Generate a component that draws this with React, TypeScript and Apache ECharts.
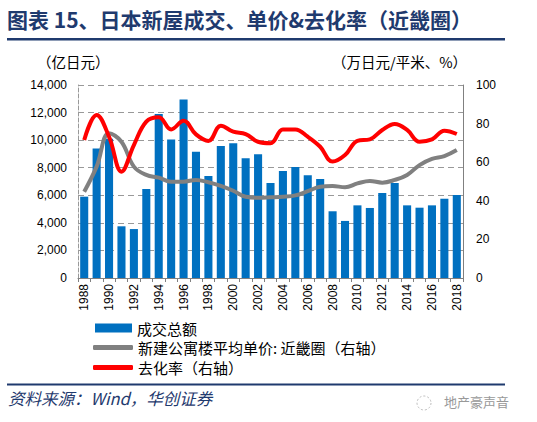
import React, { useEffect, useRef } from "react";
import * as echarts from "echarts";

const years = [
  "1988","1989","1990","1991","1992","1993","1994","1995","1996","1997","1998","1999","2000","2001","2002","2003",
  "2004","2005","2006","2007","2008","2009","2010","2011","2012","2013","2014","2015","2016","2017","2018",
];
const volume = [
  5900, 9400, 10100, 3750, 3550, 6450, 11900, 10050, 12950, 9150, 7400, 9575, 9770, 8680, 8970, 6900,
  7760, 8050, 7450, 7180, 4840, 4140, 5270, 5080, 6170, 6900, 5270, 5100, 5270, 5750, 6020,
];
const price = [
  44.7, 57.7, 75.0, 70.6, 57.7, 53.4, 52.0, 49.9, 49.9, 50.8, 49.6, 47.7, 45.2, 42.1, 41.6, 41.8,
  42.1, 42.8, 45.0, 47.3, 47.7, 47.0, 49.0, 50.3, 49.4, 50.8, 53.4, 58.5, 61.7, 63.2, 66.3,
];
const sellRate = [
  71.5, 84.5, 73.2, 55.1, 68.9, 81.0, 83.3, 77.0, 81.5, 74.4, 71.0, 78.9, 75.8, 74.6, 70.6, 69.8,
  77.0, 77.0, 73.2, 68.0, 60.3, 63.7, 71.1, 71.8, 76.7, 79.8, 76.7, 70.6, 71.8, 76.3, 74.6,
];
const leftTicks = { min: 0, max: 14000, interval: 2000 };
const rightTicks = { min: 0, max: 100, interval: 20 };

const nameBar = "成交总额";
const namePrice = "新建公寓楼平均单价: 近畿圈（右轴）";
const nameRate = "去化率（右轴）";

const CJK = "'Noto Sans CJK SC', sans-serif";
const NUM = "Arial, 'Liberation Sans', sans-serif";
const NAVY = "#1F3A6E";

export default function App() {
  const ref = useRef<HTMLDivElement>(null);
  useEffect(() => {
    if (!ref.current) return;
    const chart = echarts.init(ref.current, undefined, { renderer: "svg" });
    const legendText = { fontFamily: CJK, fontSize: 15, lineHeight: 16, color: "#000" };
    chart.setOption({
      animation: false,
      backgroundColor: "#fff",
      grid: { left: 78, right: 74, top: 85, height: 193, containLabel: false },
      xAxis: {
        type: "category",
        data: years,
        boundaryGap: true,
        axisLine: { lineStyle: { color: "#808080", width: 1 } },
        axisTick: { show: true, interval: 0, length: 4, lineStyle: { color: "#808080" } },
        axisLabel: { rotate: 90, interval: 1, fontFamily: NUM, fontSize: 12, color: "#000", margin: 6 },
      },
      yAxis: [
        {
          type: "value",
          ...leftTicks,
          axisLine: { show: true, lineStyle: { color: "#999", type: "dashed" } },
          axisTick: { show: false },
          axisLabel: {
            fontFamily: NUM, fontSize: 12, color: "#000", margin: 11,
            formatter: (v: number) => v.toLocaleString("en-US"),
          },
          splitLine: { show: true, lineStyle: { color: "#999", type: [6, 4], width: 1.2 } },
        },
        {
          type: "value",
          ...rightTicks,
          axisLine: { show: true, lineStyle: { color: "#808080" } },
          axisTick: { show: false },
          axisLabel: { fontFamily: NUM, fontSize: 12, color: "#000", margin: 13 },
          splitLine: { show: false },
        },
      ],
      legend: [
        {
          orient: "vertical", left: 95, top: 320, itemWidth: 37, itemHeight: 9, itemGap: 0,
          data: [{ name: nameBar, icon: "rect" }], textStyle: legendText, padding: 0,
        },
        {
          orient: "vertical", left: 93, top: 339.5, itemWidth: 40, itemHeight: 5, itemGap: 0,
          data: [{ name: namePrice, icon: "roundRect" }], textStyle: legendText, padding: 0,
        },
        {
          orient: "vertical", left: 93, top: 359.5, itemWidth: 40, itemHeight: 5, itemGap: 0,
          data: [{ name: nameRate, icon: "roundRect" }], textStyle: legendText, padding: 0,
        },
      ],
      series: [
        {
          name: nameBar, type: "bar", data: volume, yAxisIndex: 0,
          barCategoryGap: "35%", itemStyle: { color: "#0070C0" },
        },
        {
          name: namePrice, type: "line", data: price, yAxisIndex: 1, smooth: 0.4,
          symbol: "none", lineStyle: { color: "#808080", width: 4 }, itemStyle: { color: "#808080" },
        },
        {
          name: nameRate, type: "line", data: sellRate, yAxisIndex: 1, smooth: 0.4,
          symbol: "none", lineStyle: { color: "#FF0000", width: 4 }, itemStyle: { color: "#FF0000" },
        },
      ],
      graphic: [
        {
          type: "text", left: 7, top: 8,
          style: { text: "图表 15、日本新屋成交、单价&去化率（近畿圈）", fontFamily: CJK, fontWeight: "bold", fontSize: 21, fill: NAVY },
        },
        { type: "rect", shape: { x: 7, y: 38, width: 498, height: 2.5 }, style: { fill: NAVY } },
        {
          type: "text", left: 37, top: 54,
          style: { text: "（亿日元）", fontFamily: CJK, fontSize: 14.5, fill: "#000" },
        },
        {
          type: "text", left: 332, top: 54,
          style: { text: "（万日元/平米、%）", fontFamily: CJK, fontSize: 14.5, fill: "#000" },
        },
        { type: "rect", shape: { x: 7, y: 383.5, width: 498, height: 2 }, style: { fill: NAVY } },
        {
          type: "text", left: 8, top: 390,
          style: { text: "资料来源：Wind，华创证券", fontFamily: CJK, fontStyle: "italic", fontSize: 16.5, fill: NAVY },
        },
        { type: "circle", shape: { cx: 424, cy: 403, r: 7 }, style: { fill: "none", stroke: "#bbb", lineWidth: 1, lineDash: [2, 2] } },
        {
          type: "text", left: 444, top: 395,
          style: { text: "地产豪声音", fontFamily: CJK, fontSize: 13, fill: "#999" },
        },
      ],
    });
    return () => chart.dispose();
  }, []);
  return <div ref={ref} style={{ width: 537, height: 422, position: "absolute", left: 0, top: 0 }} />;
}
